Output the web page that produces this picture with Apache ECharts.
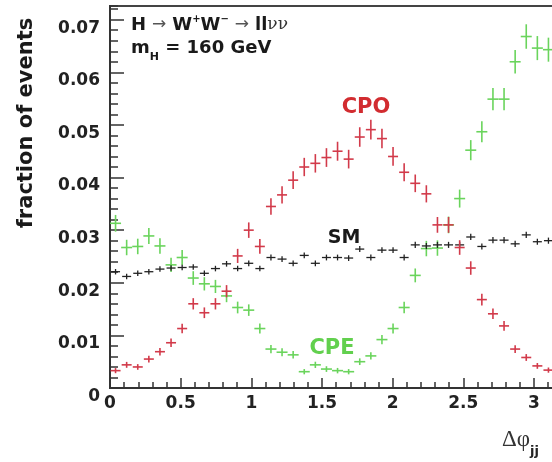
<!DOCTYPE html>
<html>
<head>
<meta charset="utf-8">
<script src="https://cdn.jsdelivr.net/npm/echarts@6/dist/echarts.min.js"></script>
<style>
    html, body { margin: 0; padding: 0; background: #fff; }
    #main { width: 552px; height: 462px; }
</style>
</head>
<body>
<div id="main"></div>
<script>
// 40 bins between 0 and pi
var nBins = 40;
var binWidth = Math.PI / nBins;

var smValues = [
    0.0221, 0.0212, 0.0218, 0.0221, 0.0226, 0.0228, 0.0229, 0.0230, 0.0218, 0.0227,
    0.0236, 0.0227, 0.0237, 0.0227, 0.0248, 0.0245, 0.0237, 0.0252, 0.0237, 0.0248,
    0.0248, 0.0247, 0.0264, 0.0248, 0.0262, 0.0262, 0.0248, 0.0272, 0.0270, 0.0272,
    0.0272, 0.0272, 0.0287, 0.0269, 0.0281, 0.0281, 0.0274, 0.0291, 0.0278, 0.0280
];
var cpoValues = [
    0.0033, 0.0044, 0.0040, 0.0055, 0.0069, 0.0086, 0.0113, 0.0160, 0.0143, 0.0160,
    0.0184, 0.0251, 0.0300, 0.0269, 0.0345, 0.0367, 0.0395, 0.0420, 0.0427, 0.0438,
    0.0450, 0.0435, 0.0477, 0.0491, 0.0474, 0.0440, 0.0410, 0.0389, 0.0369, 0.0310,
    0.0310, 0.0267, 0.0228, 0.0168, 0.0141, 0.0118, 0.0074, 0.0058, 0.0042, 0.0034
];
var cpeValues = [
    0.0313, 0.0267, 0.0269, 0.0289, 0.0270, 0.0234, 0.0248, 0.0209, 0.0198, 0.0193,
    0.0175, 0.0153, 0.0148, 0.0113, 0.0074, 0.0068, 0.0063, 0.0031, 0.0044, 0.0036,
    0.0033, 0.0031, 0.0050, 0.0061, 0.0092, 0.0113, 0.0153, 0.0214, 0.0265, 0.0266,
    0.0310, 0.0360, 0.0452, 0.0487, 0.0549, 0.0549, 0.0620, 0.0668, 0.0646, 0.0643
];

var xTickValues = [0, 0.5, 1, 1.5, 2, 2.5, 3];
var xTickLabels = ['0', '0.5', '1', '1.5', '2', '2.5', '3'];
var yTickValues = [0, 0.01, 0.02, 0.03, 0.04, 0.05, 0.06, 0.07];
var yTickLabels = ['0', '0.01', '0.02', '0.03', '0.04', '0.05', '0.06', '0.07'];

var labelFont = 'DejaVu Sans';

// statistical error ~ k * sqrt(fraction)
function toPoints(values, k) {
    var pts = [];
    for (var i = 0; i < values.length; i++) {
        pts.push([(i + 0.5) * binWidth, values[i], k * Math.sqrt(values[i])]);
    }
    return pts;
}

function tickLabel(values, labels) {
    return function (v) {
        for (var i = 0; i < values.length; i++) {
            if (Math.abs(values[i] - v) < 1e-9) return labels[i];
        }
        return '';
    };
}

// cross with error bar
function crossRenderer(color, width, halfW) {
    return function (params, api) {
        var x = api.value(0), y = api.value(1), e = api.value(2);
        var c = api.coord([x, y]);
        var hi = api.coord([x, y + e]);
        var lo = api.coord([x, Math.max(y - e, 0)]);
        var style = { stroke: color, lineWidth: width };
        return {
            type: 'group',
            children: [
                { type: 'line', shape: { x1: c[0] - halfW, y1: c[1], x2: c[0] + halfW, y2: c[1] }, style: style },
                { type: 'line', shape: { x1: c[0], y1: hi[1], x2: c[0], y2: lo[1] }, style: style }
            ]
        };
    };
}

var axisColor = '#333';

var option = {
    animation: false,
    backgroundColor: '#fff',
    grid: {
        left: 110,
        right: -2,
        top: 6,
        bottom: 74,
        show: true,
        borderColor: '#444',
        borderWidth: 2,
        containLabel: false,
        outerBoundsMode: 'none'
    },
    xAxis: [{
        type: 'value',
        min: 0,
        max: Math.PI,
        interval: 0.5,
        axisLine: { show: true, onZero: false, lineStyle: { color: axisColor, width: 2 } },
        axisTick: { show: true, inside: true, length: 10, lineStyle: { color: axisColor, width: 1.5 } },
        axisLabel: {
            margin: 7,
            showMaxLabel: false,
            color: '#222',
            fontFamily: labelFont,
            fontWeight: 'bold',
            fontSize: 17,
            formatter: tickLabel(xTickValues, xTickLabels)
        },
        splitLine: { show: false }
    }, {
        // minor ticks
        type: 'value',
        position: 'bottom',
        min: 0,
        max: Math.PI,
        interval: 0.1,
        axisLine: { show: false },
        axisTick: { show: true, inside: true, length: 6, lineStyle: { color: axisColor, width: 1.5 } },
        axisLabel: { show: false },
        splitLine: { show: false }
    }],
    yAxis: [{
        type: 'value',
        min: 0,
        max: 0.0726,
        interval: 0.01,
        axisLine: { show: true, onZero: false, lineStyle: { color: axisColor, width: 2 } },
        axisTick: { show: true, inside: true, length: 14, lineStyle: { color: axisColor, width: 1.5 } },
        axisLabel: {
            margin: 10,
            showMaxLabel: false,
            verticalAlign: 'top',
            color: '#222',
            fontFamily: labelFont,
            fontWeight: 'bold',
            fontSize: 17,
            formatter: tickLabel(yTickValues, yTickLabels)
        },
        splitLine: { show: false }
    }, {
        // minor ticks
        type: 'value',
        position: 'left',
        min: 0,
        max: 0.0726,
        interval: 0.002,
        axisLine: { show: false },
        axisTick: { show: true, inside: true, length: 8, lineStyle: { color: axisColor, width: 1.5 } },
        axisLabel: { show: false },
        splitLine: { show: false }
    }],
    series: [{
        name: 'CPE',
        type: 'custom',
        xAxisIndex: 0,
        yAxisIndex: 0,
        renderItem: crossRenderer('#6ad45c', 1.6, 5.5),
        encode: { x: 0, y: 1 },
        data: toPoints(cpeValues, 0.009)
    }, {
        name: 'SM',
        type: 'custom',
        xAxisIndex: 0,
        yAxisIndex: 0,
        renderItem: crossRenderer('#222', 1.3, 4.5),
        encode: { x: 0, y: 1 },
        data: toPoints(smValues, 0.0035)
    }, {
        name: 'CPO',
        type: 'custom',
        xAxisIndex: 0,
        yAxisIndex: 0,
        renderItem: crossRenderer('#d23a4a', 1.6, 5),
        encode: { x: 0, y: 1 },
        data: toPoints(cpoValues, 0.0085)
    }],
    graphic: [{
        type: 'text',
        x: 131,
        y: 25,
        style: {
            text: '{b|H}{a|→}{b|W}{s|+}{b|W}{s|−}{a|→}{b|ll}{n|νν}',
            align: 'left', verticalAlign: 'middle',
            textAlign: 'left', textVerticalAlign: 'middle',
            rich: {
                b: { fontSize: 18, fontWeight: 'bold', fontFamily: labelFont, fill: '#1a1a1a', lineHeight: 22 },
                a: { fontSize: 17, fontFamily: labelFont, fill: '#555', lineHeight: 22, padding: [0, 6, 0, 6] },
                s: { fontSize: 10, fontWeight: 'bold', fontFamily: labelFont, fill: '#1a1a1a', lineHeight: 16, verticalAlign: 'top' },
                n: { fontSize: 17, fontFamily: 'DejaVu Serif', fill: '#333', lineHeight: 22 }
            }
        }
    }, {
        type: 'text',
        x: 131,
        y: 48,
        style: {
            text: '{b|m}{h|H}{b| = 160 GeV}',
            align: 'left', verticalAlign: 'middle',
            textAlign: 'left', textVerticalAlign: 'middle',
            rich: {
                b: { fontSize: 18, fontWeight: 'bold', fontFamily: labelFont, fill: '#1a1a1a', lineHeight: 30 },
                h: { fontSize: 11, fontWeight: 'bold', fontFamily: labelFont, fill: '#1a1a1a', lineHeight: 13, verticalAlign: 'bottom' }
            }
        }
    }, {
        type: 'text',
        x: 366,
        y: 108,
        style: {
            text: 'CPO',
            align: 'center', verticalAlign: 'middle',
            textAlign: 'center', textVerticalAlign: 'middle',
            font: 'bold 21px "DejaVu Sans"',
            fill: '#d22c30'
        }
    }, {
        type: 'text',
        x: 344,
        y: 238,
        style: {
            text: 'SM',
            align: 'center', verticalAlign: 'middle',
            textAlign: 'center', textVerticalAlign: 'middle',
            font: 'bold 19px "DejaVu Sans"',
            fill: '#1a1a1a'
        }
    }, {
        type: 'text',
        x: 332,
        y: 349,
        style: {
            text: 'CPE',
            align: 'center', verticalAlign: 'middle',
            textAlign: 'center', textVerticalAlign: 'middle',
            font: 'bold 21px "DejaVu Sans"',
            fill: '#62d04e'
        }
    }, {
        type: 'text',
        x: 27,
        y: 123,
        rotation: Math.PI / 2,
        style: {
            text: 'fraction of events',
            align: 'center', verticalAlign: 'middle',
            textAlign: 'center', textVerticalAlign: 'middle',
            font: 'bold 21px "DejaVu Sans"',
            fill: '#1a1a1a'
        }
    }, {
        type: 'text',
        x: 502,
        y: 440,
        style: {
            text: '{d|Δφ}{j|jj}',
            align: 'left', verticalAlign: 'middle',
            textAlign: 'left', textVerticalAlign: 'middle',
            rich: {
                d: { fontSize: 23, fontFamily: 'Liberation Serif', fill: '#333', lineHeight: 36 },
                j: { fontSize: 13, fontWeight: 'bold', fontFamily: labelFont, fill: '#222', lineHeight: 13, verticalAlign: 'bottom' }
            }
        }
    }]
};

//初始化echarts实例
var myChart = echarts.init(document.getElementById('main'));
myChart.setOption(option);
</script>
</body>
</html>
